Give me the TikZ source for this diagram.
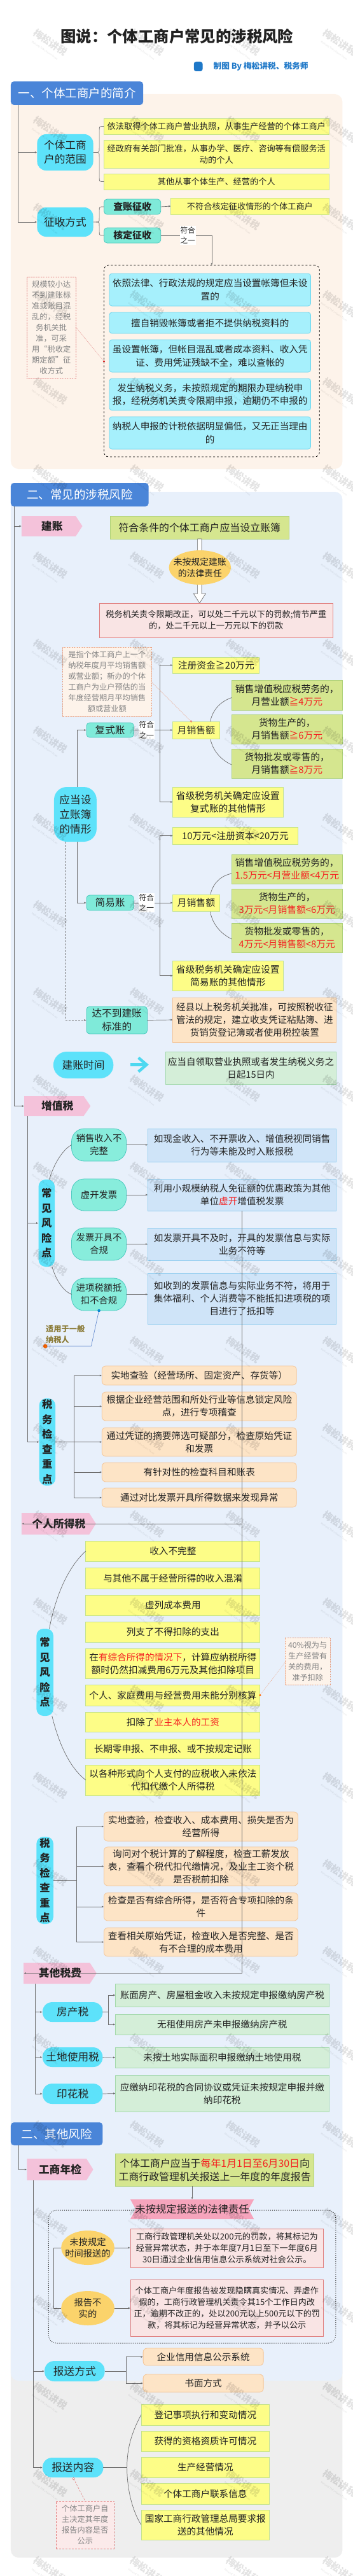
\documentclass[tikz,border=0pt]{standalone}
\usepackage{fontspec}
\setmainfont{Noto Sans CJK SC}
\usetikzlibrary{arrows.meta,calc}
\definecolor{ctxt}{HTML}{222222}
\definecolor{cyel}{HTML}{FDFD87}
\definecolor{cyelb}{HTML}{C5E38A}
\definecolor{clime}{HTML}{D5E68F}
\definecolor{climeb}{HTML}{AFD27A}
\definecolor{ckb}{HTML}{A6F0FC}
\definecolor{ckbb}{HTML}{6BD5EE}
\definecolor{ccyan}{HTML}{5DE2FA}
\definecolor{cteal}{HTML}{7FEAD9}
\definecolor{cteal2}{HTML}{88EDDC}
\definecolor{ctealb}{HTML}{4CCABF}
\definecolor{cblue}{HTML}{CFE4F8}
\definecolor{cblueb}{HTML}{93CDEF}
\definecolor{cpeach}{HTML}{FDE4C6}
\definecolor{cpeachb}{HTML}{F4C597}
\definecolor{clgreen}{HTML}{D4EED8}
\definecolor{clgreenb}{HTML}{A3D9AB}
\definecolor{credf}{HTML}{F9E4E4}
\definecolor{credb}{HTML}{E07E7E}
\definecolor{corange}{HTML}{FBD36B}
\definecolor{cpink}{HTML}{F4C2DA}
\definecolor{cbanner}{HTML}{F6A4BC}
\definecolor{chead}{HTML}{4A85D8}
\definecolor{cbgA}{HTML}{FDF3EA}
\definecolor{cbgB}{HTML}{E8F0FB}
\definecolor{cbgC}{HTML}{EEEEEE}
\definecolor{cline}{HTML}{6E6E6E}
\definecolor{cgray}{HTML}{858585}
\definecolor{csub}{HTML}{1E78C8}
\definecolor{cr}{HTML}{F52020}
\definecolor{cnotef}{HTML}{FDF3EA}
\definecolor{cnoteb}{HTML}{E8A080}
\definecolor{cnote3}{HTML}{FBEAEA}
\definecolor{carrc}{HTML}{4DD8F0}
\definecolor{colive}{HTML}{8A7A35}
\definecolor{ccall}{HTML}{6A8FD0}
\newcommand{\fsz}[2]{\fontsize{#1}{#2}\selectfont}
\newcommand{\rd}[1]{\textcolor{cr}{#1}}
\newcommand{\bx}[7]{\node[#2,minimum width={(#5-#3)*1.0619pt},minimum height={(#6-#4)*1pt}] (#1) at ({(#3+#5)/2},{(#4+#6)/2}) {#7};}
\newcommand{\pent}[6]{\fill[cpink] (#2,#3) -- ({#4-10},#3) -- (#4,{(#3+#5)/2}) -- ({#4-10},#5) -- (#2,#5) -- cycle; \bx{#1}{pinklab}{#2}{#3}{#4}{#5}{#6}}
\tikzset{
 base/.style={inner sep=0pt, outer sep=0pt, align=center, text=ctxt},
 yel/.style={base, fill=cyel, draw=cyelb, line width=0.8pt, font=\fsz{14.6}{20}},
 lime/.style={base, fill=clime, draw=climeb, line width=0.8pt, font=\fsz{14.8}{20}},
 kbox/.style={base, fill=ckb, draw=ckbb, line width=0.8pt, rounded corners=4pt, font=\fsz{14.6}{20.5}},
 cyn/.style={base, fill=ccyan, rounded corners=14pt, font=\fsz{16.7}{22}},
 tealb/.style={base, fill=cteal, draw=ctealb, line width=0.8pt, rounded corners=5pt, font=\fsz{15.6}{21}},
 teal2/.style={base, fill=cteal2, draw=ctealb, line width=0.8pt, rounded corners=20pt, font=\fsz{14.3}{20}},
 bluebx/.style={base, fill=cblue, draw=cblueb, line width=0.8pt, font=\fsz{14.6}{20}},
 pch/.style={base, fill=cpeach, draw=cpeachb, line width=0.8pt, rounded corners=6pt, font=\fsz{14.6}{20}},
 pch2/.style={base, fill=cpeach, draw=cpeachb, line width=0.8pt, font=\fsz{14.5}{20}},
 lgr/.style={base, fill=clgreen, draw=clgreenb, line width=0.8pt, font=\fsz{14.6}{20}},
 redb/.style={base, fill=credf, draw=credb, line width=0.8pt, font=\fsz{13.2}{18}},
 notebox/.style={base, fill=cnotef, draw=cnoteb, densely dotted, line width=0.6pt, text=cgray, font=\fsz{12.2}{17}},
 head/.style={base, fill=chead, rounded corners=5pt, text=white, font=\fsz{18.5}{20}},
 pinklab/.style={base, font=\bfseries\fsz{16.8}{20}},
 vert/.style={base, fill=ccyan, rounded corners=11pt, font=\bfseries\fsz{16.3}{23.5}},
 conn/.style={draw=cline, line width=0.7pt},
 arr/.style={conn, -{Latex[length=3.5pt,width=3pt]}},
 lab/.style={base, fill=white, font=\fsz{11.7}{16.5}, inner sep=1pt},
 ovl/.style={base, font=\fsz{14.3}{18}},
 wm/.style={base, text=black, opacity=0.11, rotate=-35, font=\bfseries\fsz{15}{14}},
}
\begin{document}
\begin{tikzpicture}[x=1.0619pt,y=-1pt]
\useasboundingbox (0,0) rectangle (522.64,4049);
\fill[white] (0,0) rectangle (522.64,4049);
% backgrounds
\fill[cbgA, rounded corners=12pt] (16,148) rectangle (507,737);
\fill[cbgC, rounded corners=12pt] (16,3355) rectangle (507,4020);
\fill[cbgB, rounded corners=12pt] (16,773) rectangle (507,3742);
% title
\node[base, font=\bfseries\fsz{24.4}{27}] (title) at (262,57) {图说：个体工商户常见的涉税风险};
\fill[csub, rounded corners=3.5pt] (287,97) rectangle (300,112);
\node[base, anchor=west, text=csub, font=\bfseries\fsz{12.7}{14}] (sub) at (316,104.5) {制图 By 梅松讲税、税务师};
% ===== section 1
\bx{h1}{head}{16}{128}{212}{165}{一、个体工商户的简介}
\coordinate (b1) at ($(h1.south west)+(11,0)$);
\bx{scope}{cyn}{55}{211}{138}{268}{个体工商\\户的范围}
\bx{zsfs}{cyn}{55}{326}{138}{372}{征收方式}
\draw[arr] (b1) |- (scope.west);
\draw[arr] (b1) |- (zsfs.west);
\bx{r1}{yel,font=\fsz{13.2}{18}}{154}{186}{487}{211}{依法取得个体工商户营业执照，从事生产经营的个体工商户}
\bx{r2}{yel,font=\fsz{13.2}{18}}{154}{220}{487}{264}{经政府有关部门批准，从事办学、医疗、咨询等有偿服务活\\动的个人}
\bx{r3}{yel,font=\fsz{13.2}{18}}{154}{273}{487}{298}{其他从事个体生产、经营的个人}
\draw[conn] (scope.east) -- (141,239.5) .. controls (147,239.5) .. (147,233) -- (147,205) .. controls (147,198.5) .. (r1.west);
\draw[conn] (141,239.5) .. controls (147,239.5) .. (147,246) -- (147,279) .. controls (147,285.5) .. (r3.west);
\bx{cz}{tealb,font=\bfseries\fsz{14.9}{18}}{154}{313}{238}{337}{查账征收}
\bx{hd}{tealb,font=\bfseries\fsz{14.9}{18}}{154}{358}{238}{382}{核定征收}
\bx{czr}{yel,font=\fsz{13.2}{18}}{253}{311}{487}{337}{不符合核定征收情形的个体工商户}
\draw[conn] (zsfs.east) -- (142,349) .. controls (147,349) .. (147,343) -- (147,331) .. controls (147,325) .. (cz.west);
\draw[conn] (142,349) .. controls (147,349) .. (147,355) -- (147,364) .. controls (147,370) .. (hd.west);
\draw[arr] (cz.east) -- (czr.west);
\node[base, draw=black, dashed, line width=0.7pt, rounded corners=7pt, minimum width=338.7pt, minimum height=301pt] (dbox) at (313.5,567.5) {};
\draw[arr] (hd.east) -| (dbox.north);
\node[lab] (fh0) at (278,370) {符合\\之一};
\bx{k1}{kbox}{162}{430}{460}{481}{依照法律、行政法规的规定应当设置帐簿但未设\\置的}
\bx{k2}{kbox}{162}{491}{460}{524}{擅自销毁帐簿或者拒不提供纳税资料的}
\bx{k3}{kbox}{162}{534}{460}{585}{虽设置帐簿，但帐目混乱或者成本资料、收入凭\\证、费用凭证残缺不全，难以查帐的}
\bx{k4}{kbox}{162}{595}{460}{645}{发生纳税义务，未按照规定的期限办理纳税申\\报，经税务机关责令限期申报，逾期仍不申报的}
\bx{k5}{kbox}{162}{655}{460}{706}{纳税人申报的计税依据明显偏低，又无正当理由\\的}
\bx{note1}{notebox,draw=credb}{40}{435}{112}{595}{规模较小达\\不到建账标\\准或账目混\\乱的，经税\\务机关批\\准，可采\\用“税收定\\期定额”征\\收方式}
\coordinate (dk) at (dbox.west |- 0,568);
\draw[credb, densely dotted, line width=0.6pt] ($(note1.east)+(0,-1)$) -- (dk);
\fill[red!80!black] (dk) circle (1.6pt);
% ===== section 2
\bx{h2}{head}{16}{759}{220}{796}{二、常见的涉税风险}
\coordinate (b2) at ($(h2.south west)+(5,0)$);
\pent{jz}{32}{811}{122}{843}{建账}
\draw[arr] (b2) |- (jz.west);
\bx{jzg}{lime,font=\fsz{15.9}{20}}{163}{811}{428}{847}{符合条件的个体工商户应当设立账簿}
\filldraw[fill=white, draw=cline, line width=0.7pt] ($(jzg.south)+(-3,0)$) -- ++(0,86) -- ++(-6,0) -- ($(jzg.south)+(0,101)$) -- ($(jzg.south)+(9,86)$) -- ++(-6,0) -- ($(jzg.south)+(3,0)$) -- cycle;
\fill[corange] (296,892) ellipse [x radius=48.8pt, y radius=27pt];
\node[ovl, font=\fsz{13.8}{17.5}] (ov1) at (296,892) {未按规定建账\\的法律责任};
\bx{jzr}{redb}{147}{948}{493}{1002}{税务机关责令限期改正，可以处二千元以下的罚款;情节严重\\的，处二千元以上一万元以下的罚款}
\bx{note2}{notebox}{93}{1017}{224}{1126}{是指个体工商户上一个\\纳税年度月平均销售额\\或营业额；新办的个体\\工商户为业户预估的当\\年度经营期月平均销售\\额或营业额}
\bx{qx}{cyn,rounded corners=20pt,font=\fsz{16.7}{23}}{80}{1237}{143}{1323}{应当设\\立账簿\\的情形}
\bx{fs}{tealb}{128}{1136}{198}{1159}{复式账}
\bx{jyz}{tealb}{128}{1407}{198}{1431}{简易账}
\bx{dbd}{tealb}{128}{1582}{218}{1625}{达不到建账\\标准的}
\draw[arr] ($(qx.north)+(2.5,0)$) |- (fs.west);
\draw[arr] ($(qx.south)+(2.5,0)$) |- (jyz.west);
\draw[arr, densely dashed] ($(qx.south)+(-14.5,0)$) |- (dbd.west);
% 复式账 branch
\bx{zc1}{yel,font=\fsz{14.8}{20}}{256}{1033}{384}{1058}{注册资金≧20万元}
\bx{zc3}{yel,font=\fsz{14.8}{20}}{256}{1237}{419}{1284}{省级税务机关确定应设置\\复式账的其他情形}
\bx{g1}{lime}{343}{1069}{507}{1116}{销售增值税应税劳务的，\\月营业额\rd{≧4万元}}
\bx{g2}{lime}{343}{1123}{507}{1169}{货物生产的，\\月销售额\rd{≧6万元}}
\bx{g3}{lime}{343}{1177}{507}{1223}{货物批发或零售的，\\月销售额\rd{≧8万元}}
\draw[conn] ($(g1.west)+(0,4)$) .. controls (320,1105) and (310,1125) .. (310,1147) .. controls (310,1172) and (322,1192) .. ($(g3.west)+(0,2)$);
\bx{ym1}{yel,font=\fsz{14.8}{20}}{256}{1134}{325}{1161}{月销售额}
\coordinate (bus1) at (237,1147.5);
\draw[conn] (fs.east) -- (bus1);
\draw[arr] (bus1) |- (zc1.west);
\draw[arr] (bus1) |- (zc3.west);
\draw[arr] (bus1) -- (ym1.west);
\node[lab] (fh1) at (217,1147.5) {符合\\之一};
% 简易账 branch
\bx{zc4}{yel,font=\fsz{14.8}{20}}{256}{1300}{441}{1327}{10万元<注册资本<20万元}
\bx{zc6}{yel,font=\fsz{14.8}{20}}{256}{1510}{419}{1557}{省级税务机关确定应设置\\简易账的其他情形}
\bx{g4}{lime}{343}{1343}{507}{1389}{销售增值税应税劳务的，\\\rd{1.5万元<月营业额<4万元}}
\bx{g5}{lime}{343}{1397}{507}{1443}{货物生产的，\\\rd{3万元<月销售额<6万元}}
\bx{g6}{lime}{343}{1451}{507}{1497}{货物批发或零售的，\\\rd{4万元<月销售额<8万元}}
\draw[conn] ($(g4.west)+(0,7)$) .. controls (320,1378) and (310,1398) .. (310,1420) .. controls (310,1445) and (322,1465) .. ($(g6.west)+(0,2)$);
\bx{ym2}{yel,font=\fsz{14.8}{20}}{256}{1406}{325}{1432}{月销售额}
\coordinate (bus2) at (237,1419);
\draw[conn] (jyz.east) -- (bus2);
\draw[arr] (bus2) |- (zc4.west);
\draw[arr] (bus2) |- (zc6.west);
\draw[arr] (bus2) -- (ym2.west);
\node[lab] (fh2) at (217,1419) {符合\\之一};
\draw[conn, draw=cnoteb, densely dotted] (note2.east) -- ($(ym1.north west)+(27,0)$);
\fill[cnoteb!90!red] ($(ym1.north west)+(27,0)$) circle (1.8pt);
\bx{dbr}{pch2}{256}{1568}{498}{1638}{经县以上税务机关批准，可按照税收征\\管法的规定，建立收支凭证粘贴簿、进\\货销货登记簿或者使用税控装置}
\draw[arr] (dbd.east) -- (dbr.west);
\bx{jzsj}{cyn,rounded corners=21pt}{79}{1653}{168}{1695}{建账时间}
\bx{jzsr}{lgr,font=\fsz{14.5}{20}}{245}{1653}{498}{1704}{应当自领取营业执照或者发生纳税义务之\\日起15日内}
\coordinate (ca1) at (193,1673.5);
\coordinate (ca2) at (216,1673.5);
\draw[carrc, line width=4.5pt] (ca1) -- (ca2);
\draw[carrc, line width=4.5pt, line join=miter] ($(ca2)+(-11,-11)$) -- ($(ca2)+(1,0)$) -- ($(ca2)+(-11,11)$);
% 增值税
\pent{zzs}{36}{1723}{134}{1754}{增值税}
\draw[arr] (b2) |- (zzs.west);
\coordinate (zl) at ($(zzs.south west)+(5,0)$);
\bx{rk1}{vert}{57}{1854}{81}{1991}{常\\见\\风\\险\\点}
\bx{jc1}{vert}{58}{2198}{82}{2335}{税\\务\\检\\查\\重\\点}
\draw[arr] (zl) |- (rk1.west);
\draw[arr] (zl) |- (jc1.west);
\bx{t1}{teal2}{106}{1774}{187}{1825}{销售收入不\\完整}
\bx{t2}{teal2}{106}{1853}{187}{1903}{虚开发票}
\bx{t3}{teal2}{106}{1930}{187}{1981}{发票开具不\\合规}
\bx{t4}{teal2}{106}{2009}{187}{2060}{进项税额抵\\扣不合规}
\draw[conn] (73,1854) .. controls (80,1828) and (94,1806) .. (t1.west);
\draw[conn] (77,1991) .. controls (84,2015) and (95,2030) .. (t4.west);
\bx{b1}{bluebx}{219}{1774}{498}{1826}{如现金收入、不开票收入、增值税视同销售\\行为等未能及时入账报税}
\bx{b2}{bluebx}{219}{1853}{498}{1903}{利用小规模纳税人免征额的优惠政策为其他\\单位\rd{虚开}增值税发票}
\bx{b3}{bluebx}{219}{1930}{498}{1981}{如发票开具不及时，开具的发票信息与实际\\业务不符等}
\bx{b4}{bluebx}{219}{2001}{498}{2081}{如收到的发票信息与实际业务不符，将用于\\集体福利、个人消费等不能抵扣进项税的项\\目进行了抵扣等}
\draw[arr] (t1.east) -- (b1.west |- t1.east);
\draw[arr] (t2.east) -- (b2.west |- t2.east);
\draw[arr] (t3.east) -- (b3.west |- t3.east);
\draw[arr] (t4.east) -- (b4.west |- t4.east);
\coordinate (cl1) at (135,2116);
\coordinate (cl2) at (67,2116);
\draw[ccall, line width=0.7pt] (t4.south) -- (cl1) -- (cl2);
\fill[cyan!70!blue] (t4.south) circle (2.3pt);
\fill[orange!80!red] (cl2) circle (3.3pt);
\node[base, anchor=west, align=left, text=colive, font=\bfseries\fsz{12.2}{17}] (cltxt) at (68,2097) {适用于一般\\纳税人};
\bx{p1}{pch}{151}{2147}{439}{2177}{实地查验（经营场所、固定资产、存货等）}
\bx{p2}{pch}{151}{2188}{439}{2233}{根据企业经营范围和所处行业等信息锁定风险\\点，进行专项稽查}
\bx{p3}{pch}{151}{2244}{439}{2289}{通过凭证的摘要筛选可疑部分，检查原始凭证\\和发票}
\bx{p4}{pch}{151}{2299}{439}{2329}{有针对性的检查科目和账表}
\bx{p5}{pch}{151}{2339}{439}{2369}{通过对比发票开具所得数据来发现异常}
\coordinate (vb1) at (110,2266.5);
\draw[conn] (jc1.east) -- (vb1);
\foreach \n in {p1,p2,p3,p4,p5} \draw[arr] (vb1) |- (\n.west);
% 个人所得税
\pent{gs}{32}{2378}{142}{2412}{个人所得税}
\draw[arr] (b2) |- (gs.west);
\bx{rk2}{vert}{54}{2560}{79}{2697}{常\\见\\风\\险\\点}
\bx{y1}{yel}{127}{2422}{385}{2454}{收入不完整}
\bx{y2}{yel}{127}{2464}{385}{2497}{与其他不属于经营所得的收入混淆}
\bx{y3}{yel}{127}{2507}{385}{2539}{虚列成本费用}
\bx{y4}{yel}{127}{2549}{385}{2581}{列支了不得扣除的支出}
\bx{y5}{yel}{127}{2591}{385}{2638}{在\rd{有综合所得的情况下}，计算应纳税所得\\额时仍然扣减费用6万元及其他扣除项目}
\bx{y6}{yel}{127}{2648}{385}{2681}{个人、家庭费用与经营费用未能分别核算}
\bx{y7}{yel}{127}{2691}{385}{2722}{扣除了\rd{业主本人的工资}}
\bx{y8}{yel}{127}{2733}{385}{2764}{长期零申报、不申报、或不按规定记账}
\bx{y9}{yel}{127}{2774}{385}{2822}{以各种形式向个人支付的应税收入未依法\\代扣代缴个人所得税}
\draw[conn] (73,2560) .. controls (84,2500) and (104,2460) .. (y1.west);
\draw[conn] (77,2697) .. controls (88,2745) and (105,2780) .. (y9.west);
\bx{n40}{notebox}{422}{2574}{489}{2648}{40\%视为与\\生产经营有\\关的费用，\\准予扣除}
\draw[cnoteb, densely dotted, line width=0.6pt] (y6.east) -- ($(n40.west)+(0,2)$);
\fill[orange!80!red] (y6.east) circle (1.8pt);
\bx{jc2}{vert}{54}{2887}{79}{3024}{税\\务\\检\\查\\重\\点}
\bx{q1}{pch}{154}{2848}{441}{2894}{实地查验，检查收入、成本费用、损失是否为\\经营所得}
\bx{q2}{pch}{154}{2903}{441}{2964}{询问对个税计算的了解程度，检查工薪发放\\表，查看个税代扣代缴情况，及业主工资个税\\是否税前扣除}
\bx{q3}{pch}{154}{2975}{441}{3019}{检查是否有综合所得，是否符合专项扣除的条\\件}
\bx{q4}{pch}{154}{3030}{441}{3075}{查看相关原始凭证，检查收入是否完整、是否\\有不合理的成本费用}
\coordinate (vb2) at (113,2955.5);
\draw[conn] (jc2.east) -- (vb2);
\foreach \n in {q1,q2,q3,q4} \draw[arr] (vb2) |- (\n.west);
% 其他税费
\pent{qt}{35}{3085}{143}{3118}{其他税费}
\draw[arr] (b2) |- (qt.west);
\coordinate (ql) at ($(qt.south west)+(17,0)$);
\bx{fc}{cyn,rounded corners=15pt}{63}{3147}{152}{3178}{房产税}
\bx{td}{cyn,rounded corners=15pt}{63}{3218}{152}{3249}{土地使用税}
\bx{yh}{cyn,rounded corners=15pt}{63}{3275}{152}{3307}{印花税}
\foreach \n in {fc,td,yh} \draw[arr] (ql) |- (\n.west);
\bx{h1b}{lgr}{171}{3118}{487}{3154}{账面房产、房屋租金收入未按规定申报缴纳房产税}
\bx{h2b}{lgr}{171}{3166}{487}{3198}{无租使用房产未申报缴纳房产税}
\bx{h3b}{lgr}{171}{3218}{487}{3250}{未按土地实际面积申报缴纳土地使用税}
\bx{h4b}{lgr}{171}{3262}{487}{3319}{应缴纳印花税的合同协议或凭证未按规定申报并缴\\纳印花税}
\coordinate (fcb) at (160,3162.5);
\draw[conn] (fc.east) -- (fcb);
\draw[arr] (fcb) |- (h1b.west);
\draw[arr] (fcb) |- (h2b.west);
\draw[arr] (td.east) -- (h3b.west);
\draw[arr] (yh.east) -- (h4b.west);
% ===== section 3
\bx{h3}{head}{16}{3336}{152}{3372}{二、其他风险}
\coordinate (b3) at ($(h3.south west)+(12,0)$);
\pent{gsnj}{40}{3393}{138}{3427}{工商年检}
\draw[arr] (b3) |- (gsnj.west);
\bx{nj}{lime,font=\fsz{15.9}{21}}{171}{3385}{465}{3436}{个体工商户应当于\rd{每年1月1日至6月30日}向\\工商行政管理机关报送上一年度的年度报告}
\node[base, draw=black!80, dotted, line width=1pt, rounded corners=12pt, minimum width=451.3pt, minimum height=209pt] (dotb) at (284.5,3578.5) {};
\fill[cbanner] (193,3457) -- (376,3457) -- (368,3472.5) -- (376,3488) -- (193,3488) -- (201,3472.5) -- cycle;
\node[base, font=\fsz{16.3}{18}, minimum width=194.3pt, minimum height=31pt] (ban) at (284.5,3472.5) {未按规定报送的法律责任};
\draw[arr] (ban.north |- nj.south) -- (ban.north);
\fill[corange] (130,3533) ellipse [x radius=41.9pt, y radius=27pt];
\fill[corange] (130,3628) ellipse [x radius=41.9pt, y radius=27pt];
\node[ovl, minimum width=83.9pt, minimum height=54pt] (e1) at (130,3533) {未按规定\\时间报送的};
\node[ovl, minimum width=83.9pt, minimum height=54pt] (e2) at (130,3628) {报告不\\实的};
\draw[conn] (e1.west) -- ++(-11,0) |- (e2.west);
\bx{r1b}{redb}{193}{3503}{479}{3564}{工商行政管理机关处以200元的罚款，将其标记为\\经营异常状态，并于本年度7月1日至下一年度6月\\30日通过企业信用信息公示系统对社会公示。}
\bx{r2b}{redb,font=\fsz{13.1}{18}}{193}{3583}{479}{3672}{个体工商户年度报告被发现隐瞒真实情况、弄虚作\\假的，工商行政管理机关责令其15个工作日内改\\正，逾期不改正的，处以200元以上500元以下的罚\\款，将其标记为经营异常状态，并予以公示}
\draw[arr] (e1.east) -- (r1b.west |- e1.east);
\draw[arr] (e2.east) -- (r2b.west |- e2.east);
\coordinate (gl) at ($(gsnj.south west)+(9,0)$);
\bx{bsfs}{cyn,rounded corners=15pt}{66}{3711}{155}{3743}{报送方式}
\bx{bsnr}{cyn,rounded corners=15pt}{63}{3863}{153}{3894}{报送内容}
\draw[arr] (gl) |- (bsfs.west);
\draw[arr] (gl) |- (bsnr.west);
\bx{s1}{pch}{212}{3691}{390}{3718}{企业信用信息公示系统}
\bx{s2}{pch}{212}{3732}{390}{3760}{书面方式}
\coordinate (sb) at (187,3727);
\draw[conn] (bsfs.east) -- (sb);
\draw[arr] (sb) |- (s1.west);
\draw[arr] (sb) |- (s2.west);
\bx{c1}{yel}{209}{3779}{399}{3812}{登记事项执行和变动情况}
\bx{c2}{yel}{209}{3821}{399}{3853}{获得的资格资质许可情况}
\bx{c3}{yel}{209}{3862}{399}{3894}{生产经营情况}
\bx{c4}{yel}{209}{3903}{399}{3936}{个体工商户联系信息}
\bx{c5}{yel}{209}{3945}{399}{3992}{国家工商行政管理总局要求报\\送的其他情况}
\coordinate (cb) at (188,3878.5);
\draw[conn] (bsnr.east) -- (cb);
\draw[conn] (c1.west) .. controls (194,3825) and (188,3850) .. (cb) .. controls (188,3910) and (195,3945) .. (c5.west);
\bx{n3}{notebox,fill=cnote3,draw=credb,densely dashed}{83}{3931}{169}{4006}{个体工商户自\\主决定其年度\\报告内容是否\\公示}
\draw[credb, densely dashed, line width=0.6pt] ($(bsnr.south)+(1,2)$) -- (n3.north);
\draw[credb, line width=0.6pt, fill=white] ($(bsnr.south)+(1,2)$) circle (1.8pt);
% watermarks
\foreach \k in {0,...,29} {
 \foreach \xx/\c in {71.6/a,214.7/b,357/c,500/d} {
  \node[wm] (wm\k\c) at (\xx,{71+137*\k}) {梅松讲税\\[-3pt]{\mdseries\fontsize{4}{5}\selectfont Meisong Talks About Taxes}};
 }
}
\end{tikzpicture}
\end{document}
